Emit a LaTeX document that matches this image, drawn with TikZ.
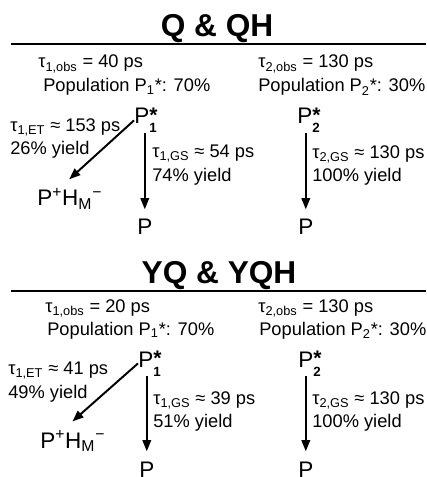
\documentclass[tikz,border=0pt]{standalone}
\usepackage{fontspec}
\setmainfont{Liberation Sans}
\usetikzlibrary{arrows.meta}

% P* with stacked star and index
\newcommand{\Pexc}[1]{P\rlap{\raisebox{1.2pt}{\bfseries\fontsize{15}{15}\selectfont *}}\raisebox{-6.4pt}{\bfseries\fontsize{9.5}{10}\selectfont #1}}

\begin{document}
\begin{tikzpicture}[
  x=0.025cm, y=-0.025cm,
  >=Triangle,
  ttl/.style={anchor=base, inner sep=0pt, font=\fontsize{22.5}{25}\selectfont\bfseries},
  txt/.style={anchor=base west, inner sep=0pt, font=\fontsize{13}{16}\selectfont},
  lbl/.style={anchor=north west, inner sep=0pt, align=left, font=\fontsize{13}{16.5}\selectfont},
  st/.style={anchor=base west, inner sep=0pt, font=\fontsize{16}{18}\selectfont},
  hr/.style={line width=1pt},
  rel/.style={-{Triangle[length=8pt,width=6pt]}, line width=1.4pt}
]
\useasboundingbox (0,0) rectangle (426,477);

% Panel 1 --- Q & QH
\node[ttl] (qtitle) at (217,37) {Q \& QH};
\draw[hr] (11,44) -- (426,44);
\node[txt] (qobsA) at (38,68) {τ\textsubscript{1,obs} = 40 ps};
\node[txt] (qpopA) at (43,92) {Population P\textsubscript{1}*: 70\%};
\node[txt] (qobsB) at (258,68) {τ\textsubscript{2,obs} = 130 ps};
\node[txt] (qpopB) at (258,92) {Population P\textsubscript{2}*: 30\%};
\node[st] (qPa) at (134,124) {\Pexc{1}};
\node[st] (qPb) at (297,124) {\Pexc{2}};
\node[st] (qCT) at (37,206) {P\textsuperscript{+}H\textsubscript{M}\textsuperscript{−}};
\node[st] (qGa) at (137,235) {P};
\node[st] (qGb) at (298,235) {P};
\node[lbl] (qET) at (10,118) {τ\textsubscript{1,ET} ≈ 153 ps\\26\% yield};
\node[lbl] (qGSa) at (152,145) {τ\textsubscript{1,GS} ≈ 54 ps\\74\% yield};
\node[lbl] (qGSb) at (312,145) {τ\textsubscript{2,GS} ≈ 130 ps\\100\% yield};

\draw[rel, shorten >=9pt] (qPa.west) -- ([xshift=-7pt]qCT.north);
\draw[rel, shorten >=7pt] (qGa.north |- qPa.south) -- (qGa.north);
\draw[rel, shorten >=7pt] (qGb.north |- qPb.south) -- (qGb.north);

% Panel 2 --- YQ & YQH
\node[ttl] (ytitle) at (219,283) {YQ \& YQH};
\draw[hr] (11,291) -- (426,291);
\node[txt] (yobsA) at (45,312) {τ\textsubscript{1,obs} = 20 ps};
\node[txt] (ypopA) at (47,335) {Population P\textsubscript{1}*: 70\%};
\node[txt] (yobsB) at (258,312) {τ\textsubscript{2,obs} = 130 ps};
\node[txt] (ypopB) at (259,335) {Population P\textsubscript{2}*: 30\%};
\node[st] (yPa) at (138,367) {\Pexc{1}};
\node[st] (yPb) at (298,367) {\Pexc{2}};
\node[st] (yCT) at (40,448) {P\textsuperscript{+}H\textsubscript{M}\textsuperscript{−}};
\node[st] (yGa) at (139,477) {P};
\node[st] (yGb) at (298,477) {P};
\node[lbl] (yET) at (8,362) {τ\textsubscript{1,ET} ≈ 41 ps\\49\% yield};
\node[lbl] (yGSa) at (153,391) {τ\textsubscript{1,GS} ≈ 39 ps\\51\% yield};
\node[lbl] (yGSb) at (312,391) {τ\textsubscript{2,GS} ≈ 130 ps\\100\% yield};

\draw[rel, shorten >=9pt] (yPa.west) -- ([xshift=-7pt]yCT.north);
\draw[rel, shorten >=7pt] (yGa.north |- yPa.south) -- (yGa.north);
\draw[rel, shorten >=7pt] (yGb.north |- yPb.south) -- (yGb.north);
\end{tikzpicture}
\end{document}
